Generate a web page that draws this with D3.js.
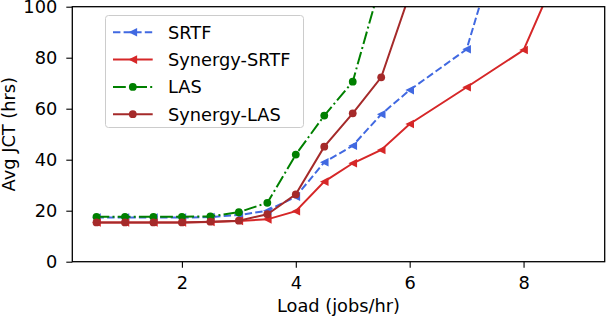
<!DOCTYPE html>
<html>
<head>
<meta charset="utf-8">
<script src="https://cdn.jsdelivr.net/npm/d3@7"></script>
<style>
  body { margin: 0; background: #fff; }
  text { font-family: "DejaVu Sans", sans-serif; }
</style>
</head>
<body>
<div class="chart-container"></div>
<script>
// data (values above 100 are clipped by the axes)
const loads = [0.5, 1, 1.5, 2, 2.5, 3, 3.5, 4, 4.5, 5, 5.5, 6, 7, 8, 9];
const srtf = [17.3, 17.3, 17.3, 17.3, 17.5, 18.3, 20.0, 25.5, 39.0, 45.5, 57.8, 67.3, 83.3, 158];
const synergySrtf = [15.4, 15.4, 15.4, 15.4, 15.6, 16.0, 16.6, 19.8, 31.4, 38.6, 43.8, 54.0, 68.4, 83.0, 134];
const las = [17.6, 17.6, 17.6, 17.6, 17.8, 19.4, 23.1, 42.0, 57.3, 70.6, 110];
const synergyLas = [15.4, 15.4, 15.4, 15.4, 15.7, 16.1, 18.6, 26.4, 45.1, 58.2, 72.3, 105];
const yTicks = [0, 20, 40, 60, 80, 100];
const xTicks = [2, 4, 6, 8];

const seriesNames = ["SRTF", "Synergy-SRTF", "LAS", "Synergy-LAS"];
const seriesValues = [srtf, synergySrtf, las, synergyLas];
const seriesColors = ["#4169e1", "#d62728", "#008000", "#a52a2a"];
const seriesDash = ["7.4,3.2", null, "12.8,3.2,2,3.2", null];
const seriesMarker = ["tri", "tri", "dot", "dot"];

const W = 606, H = 318;
const pLeft = 72.3, pRight = 604.7, pTop = 6.7, pBottom = 261.7;
const fontSize = "17.8px";

const svg = d3.select(".chart-container").append("svg").attr("width", W).attr("height", H);

const x = d3.scaleLinear().domain([0.075, 9.425]).range([pLeft, pRight]);
const y = d3.scaleLinear().domain([0, 100]).range([pBottom, pTop]);

svg.append("defs").append("clipPath").attr("id", "clip")
  .append("rect").attr("x", pLeft).attr("y", pTop).attr("width", pRight - pLeft).attr("height", pBottom - pTop);

const series = seriesNames.map((name, i) => ({
  name: name,
  color: seriesColors[i],
  dash: seriesDash[i],
  marker: seriesMarker[i],
  points: seriesValues[i].map((v, j) => ({ x: loads[j], y: v }))
}));

const line = d3.line().x(d => x(d.x)).y(d => y(d.y));
const triPath = "M-4.3,0L4.3,-4.3L4.3,4.3Z";

function drawMarker(g, s, px, py) {
  if (s.marker == "tri") {
    g.append("path").attr("d", triPath).attr("transform", `translate(${px},${py})`).attr("fill", s.color);
  } else {
    g.append("circle").attr("cx", px).attr("cy", py).attr("r", 3.9).attr("fill", s.color);
  }
}

const plot = svg.append("g").attr("clip-path", "url(#clip)");
series.forEach(s => {
  const g = plot.append("g");
  g.append("path").datum(s.points).attr("d", line)
    .attr("fill", "none").attr("stroke", s.color).attr("stroke-width", 2)
    .attr("stroke-dasharray", s.dash);
  s.points.forEach(p => drawMarker(g, s, x(p.x), y(p.y)));
});

// axes
const xAxis = d3.axisBottom(x).tickValues(xTicks).tickSize(6).tickPadding(8.5).tickFormat(d3.format("d"));
const yAxis = d3.axisLeft(y).tickValues(yTicks).tickSize(6).tickPadding(9).tickFormat(d3.format("d"));

const xg = svg.append("g").attr("transform", `translate(0,${pBottom})`).call(xAxis);
const yg = svg.append("g").attr("transform", `translate(${pLeft},0)`).call(yAxis);
[xg, yg].forEach(g => {
  g.select(".domain").remove();
  g.selectAll(".tick line").attr("stroke", "#000").attr("stroke-width", 1.1);
  g.selectAll(".tick text").attr("fill", "#000").style("font-size", fontSize)
    .style("font-family", "'DejaVu Sans', sans-serif");
});

svg.append("rect").attr("x", pLeft).attr("y", pTop).attr("width", pRight - pLeft).attr("height", pBottom - pTop)
  .attr("fill", "none").attr("stroke", "#000").attr("stroke-width", 1.3);

svg.append("text").attr("x", (pLeft + pRight) / 2).attr("y", 312).attr("text-anchor", "middle")
  .style("font-size", fontSize).text("Load (jobs/hr)");
svg.append("text").attr("transform", `translate(14.5,${(pTop + pBottom) / 2}) rotate(-90)`)
  .attr("text-anchor", "middle").style("font-size", fontSize).text("Avg JCT (hrs)");

// legend
const legend = svg.append("g");
legend.append("rect").attr("x", 105.5).attr("y", 15.5).attr("width", 198).attr("height", 112).attr("rx", 3)
  .attr("fill", "#fff").attr("fill-opacity", 0.8).attr("stroke", "#cccccc").attr("stroke-width", 1);
series.forEach((s, i) => {
  const ly = 32.3 + i * 27.3;
  const g = legend.append("g");
  g.append("line").attr("x1", 113).attr("x2", 152.7).attr("y1", ly).attr("y2", ly)
    .attr("stroke", s.color).attr("stroke-width", 2).attr("stroke-dasharray", s.dash);
  drawMarker(g, s, 132.8, ly);
  g.append("text").attr("x", 168).attr("y", ly).attr("dy", "0.36em").style("font-size", fontSize).text(s.name);
});
</script>
</body>
</html>
